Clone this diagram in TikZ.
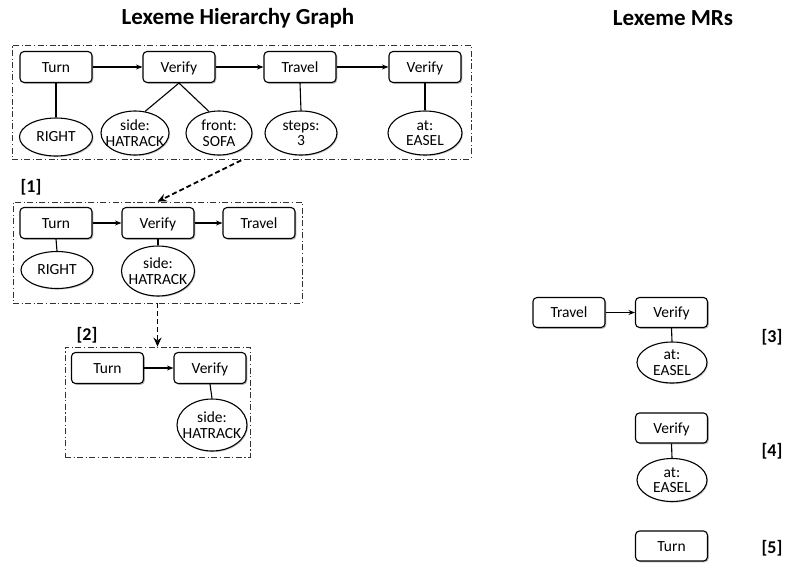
\documentclass[tikz,border=0pt]{standalone}
\usepackage{fontspec}
\setmainfont{Carlito}
\usetikzlibrary{arrows.meta,shapes.geometric,shadows}

% a line that keeps its natural look but takes no width in the node
\newcommand{\wideline}[1]{\makebox[0pt]{#1}}

\tikzset{
  nodefont/.style={font=\fontsize{15.5}{15.5}\selectfont},
  lexbox/.style={nodefont, draw, line width=1.1pt, fill=white, rounded corners=4pt,
    minimum width=72pt, minimum height=31pt, inner sep=0pt,
    text height=12pt, text depth=1.5pt,
    drop shadow={shadow xshift=1.3pt, shadow yshift=-1.3pt, fill=black!45, opacity=0.6}},
  argnode/.style={nodefont, ellipse, draw, line width=1.1pt, fill=white, inner sep=0pt,
    align=center, minimum width=72pt, minimum height=40pt,
    drop shadow={shadow xshift=1.1pt, shadow yshift=-1.1pt, fill=black!40, opacity=0.5}},
  frame/.style={draw=black!80, line width=0.8pt, dash pattern=on 6pt off 2.5pt on 1.2pt off 2.5pt,
    inner sep=0pt},
  flow/.style={line width=1.1pt, -{Stealth[length=6.5pt, width=5pt]}},
  link/.style={line width=1.1pt},
  jump/.style={line width=1.8pt, dash pattern=on 5pt off 3pt, -{Stealth[length=9pt, width=8pt]}},
  heading/.style={font=\fontsize{23}{26}\selectfont\bfseries},
  tag/.style={font=\fontsize{18}{20}\selectfont\bfseries}
}

\begin{document}
\begin{tikzpicture}[x=1pt, y=-1pt]
\useasboundingbox (0,0) rectangle (786,563);

% headings
\node[heading] (h1) at (238,18) {Lexeme Hierarchy Graph};
\node[heading] (h2) at (673,18) {Lexeme MRs};

% full hierarchy graph
\node[frame, minimum width=459pt, minimum height=114pt] (g0) at (241.5,102) {};
\node[lexbox] (t0) at (56,67) {Turn};
\node[lexbox] (v0) at (179,67) {Verify};
\node[lexbox] (r0) at (300,67) {Travel};
\node[lexbox] (w0) at (425,67) {Verify};
\node[argnode, minimum width=73pt, minimum height=38pt] (a0) at (56,137) {RIGHT};
\node[argnode, minimum width=68pt, minimum height=44pt] (b0) at (135,133) {side:\\\wideline{HATRACK}};
\node[argnode, minimum width=66pt, minimum height=44pt] (c0) at (219,133) {front:\\SOFA};
\node[argnode, minimum width=72pt, minimum height=44pt] (d0) at (301,133) {steps:\\3};
\node[argnode, minimum width=74pt, minimum height=44pt] (e0) at (425,133) {at:\\EASEL};
\draw[flow] (t0) -- (v0);
\draw[flow] (v0) -- (r0);
\draw[flow] (r0) -- (w0);
\draw[link] (t0.south) -- (a0.north);
\draw[link] (v0.south) -- (b0.65);
\draw[link] (v0.south) -- (c0.115);
\draw[link] (r0.south) -- (d0.north);
\draw[link] (w0.south) -- (e0.north);

% level [1]
\node[tag] (l1) at (31,187) {[1]};
\node[frame, minimum width=289pt, minimum height=101pt] (g1) at (157.5,252.5) {};
\node[lexbox] (t1) at (56,223) {Turn};
\node[lexbox] (v1) at (158,223) {Verify};
\node[lexbox] (r1) at (259,223) {Travel};
\node[argnode, minimum width=72pt, minimum height=37pt] (a1) at (57,270) {RIGHT};
\node[argnode, minimum width=73pt, minimum height=50pt] (b1) at (158,271) {side:\\\wideline{HATRACK}};
\draw[flow] (t1) -- (v1);
\draw[flow] (v1) -- (r1);
\draw[link] (t1.south) -- (a1.north);
\draw[link] (v1.south) -- (b1.north);

% level [2]
\node[tag] (l2) at (87,335) {[2]};
\node[frame, minimum width=185pt, minimum height=110pt] (g2) at (157.5,402) {};
\node[lexbox] (t2) at (107.5,368) {Turn};
\node[lexbox] (v2) at (210,368) {Verify};
\node[argnode, minimum width=70pt, minimum height=52pt] (b2) at (212,425) {side:\\\wideline{HATRACK}};
\draw[flow] (t2) -- (v2);
\draw[link] (v2.south) -- (b2.north);

% reductions between levels
\draw[jump, shorten <=2pt] ([xshift=1.5pt]g0.south) -- (g1.north);
\draw[jump] (g1.south) -- (g2.north);

% meaning representations
\node[lexbox, minimum height=30pt] (r3) at (569,312.5) {Travel};
\node[lexbox, minimum height=30pt] (v3) at (671.5,312.5) {Verify};
\node[argnode, minimum width=70pt, minimum height=41pt] (e3) at (672,362.5) {at:\\EASEL};
\draw[flow] (r3) -- (v3);
\draw[link] (v3.south) -- (e3.north);
\node[tag] (l3) at (772,337) {[3]};

\node[lexbox, minimum height=30pt] (v4) at (671.5,428) {Verify};
\node[argnode, minimum width=70pt, minimum height=43pt] (e4) at (672,480) {at:\\EASEL};
\draw[link] (v4.south) -- (e4.north);
\node[tag] (l4) at (772,451) {[4]};

\node[lexbox, minimum height=30pt] (t5) at (671.5,546) {Turn};
\node[tag] (l5) at (772,548) {[5]};
\end{tikzpicture}
\end{document}
